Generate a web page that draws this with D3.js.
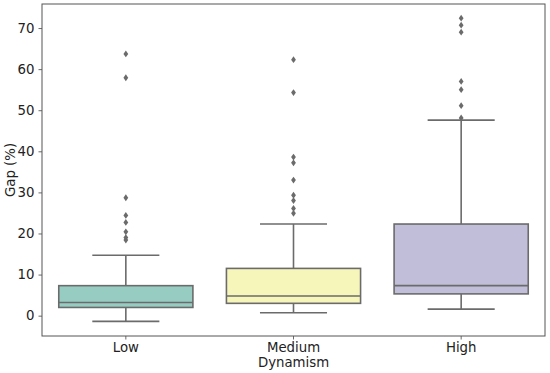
<!DOCTYPE html>
<html><head><meta charset="utf-8">
<script src="https://cdn.jsdelivr.net/npm/d3@7"></script>
<style>body{margin:0;background:#fff}svg{display:block}text{font-family:"DejaVu Sans",sans-serif;fill:#222}</style>
</head><body><svg id="c" width="550" height="373"></svg>
<script>
const categories = ["Low", "Medium", "High"];
const q1 = [2.0, 3.0, 5.3];
const medians = [3.2, 4.8, 7.3];
const q3 = [7.3, 11.5, 22.3];
const whiskerLow = [-1.4, 0.7, 1.6];
const whiskerHigh = [14.7, 22.3, 47.6];
const outliers = [
  [63.7, 57.9, 28.7, 24.4, 22.7, 20.4, 19.0, 18.4],
  [62.3, 54.3, 38.6, 37.2, 33.0, 29.3, 28.0, 26.1, 24.9],
  [72.4, 70.7, 69.0, 57.0, 55.0, 51.1, 48.1]
];
const colors = ["#97ccc3", "#f6f6ba", "#c1bed9"];
const yTicks = [0, 10, 20, 30, 40, 50, 60, 70];
const yLabel = "Gap (%)";
const xLabel = "Dynamism";

const svg = d3.select("#c");
const L = 42, R = 545, T = 4, B = 336;
const x = d3.scaleBand().domain(categories).range([L, R]).paddingInner(0).paddingOuter(0);
const y = d3.scaleLinear().domain([-4.95, 75.85]).range([B, T]);
const lineC = "#6b6b6b";
const bw = x.bandwidth() * 0.8;
const fs = "13.3px";

// axes
const ya = svg.append("g").attr("transform", `translate(${L},0)`)
  .call(d3.axisLeft(y).tickValues(yTicks).tickSize(3.5).tickPadding(4));
const xa = svg.append("g").attr("transform", `translate(0,${B})`)
  .call(d3.axisBottom(x).tickSize(3.5).tickPadding(3));
[ya, xa].forEach(g => {
  g.select(".domain").remove();
  g.selectAll("line").attr("stroke", "#444").attr("stroke-width", 0.8);
  g.selectAll("text").attr("font-size", fs).attr("fill", "#222").style("font-family", "DejaVu Sans");
});

// frame
svg.append("rect").attr("x", L).attr("y", T).attr("width", R - L).attr("height", B - T)
  .attr("fill", "none").attr("stroke", "#555").attr("stroke-width", 1);

const g = svg.append("g");
categories.forEach((c, i) => {
  const cx = x(c) + x.bandwidth() / 2;
  // whiskers
  g.append("line").attr("x1", cx).attr("x2", cx).attr("y1", y(q3[i])).attr("y2", y(whiskerHigh[i])).attr("stroke", lineC).attr("stroke-width", 1.6);
  g.append("line").attr("x1", cx).attr("x2", cx).attr("y1", y(q1[i])).attr("y2", y(whiskerLow[i])).attr("stroke", lineC).attr("stroke-width", 1.6);
  [whiskerHigh[i], whiskerLow[i]].forEach(v => {
    g.append("line").attr("x1", cx - bw / 4).attr("x2", cx + bw / 4).attr("y1", y(v)).attr("y2", y(v)).attr("stroke", lineC).attr("stroke-width", 1.6);
  });
  // box
  g.append("rect").attr("x", cx - bw / 2).attr("width", bw).attr("y", y(q3[i])).attr("height", y(q1[i]) - y(q3[i]))
    .attr("fill", colors[i]).attr("stroke", lineC).attr("stroke-width", 1.6);
  g.append("line").attr("x1", cx - bw / 2).attr("x2", cx + bw / 2).attr("y1", y(medians[i])).attr("y2", y(medians[i])).attr("stroke", lineC).attr("stroke-width", 1.6);
  // outliers (thin diamonds)
  outliers[i].forEach(v => {
    g.append("path").attr("d", "M0,-3.4L2.4,0L0,3.4L-2.4,0Z")
      .attr("transform", `translate(${cx},${y(v)})`).attr("fill", lineC);
  });
});

// labels
svg.append("text").attr("x", (L + R) / 2).attr("y", 367).attr("text-anchor", "middle").attr("font-size", fs).text(xLabel);
svg.append("text").attr("transform", `translate(15,${(T + B) / 2}) rotate(-90)`).attr("text-anchor", "middle").attr("font-size", fs).text(yLabel);
</script></body></html>
